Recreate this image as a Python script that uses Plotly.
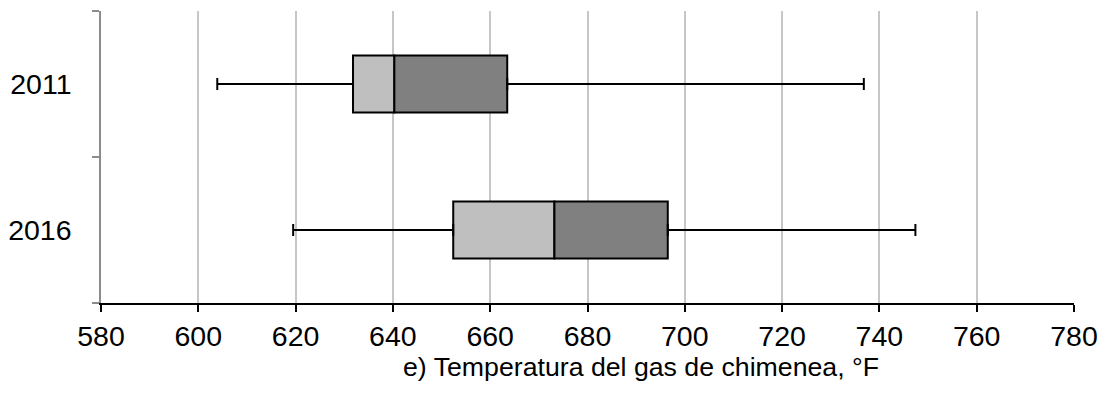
import plotly.graph_objects as go

years = ["2011", "2016"]
mins = [603.9, 619.5]
q1 = [631.8, 652.4]
medians = [640.3, 673.2]
q3 = [663.5, 696.5]
maxs = [736.8, 747.4]
x_ticks = [580, 600, 620, 640, 660, 680, 700, 720, 740, 760, 780]
x_title = "e) Temperatura del gas de chimenea, °F"

FONT = "Liberation Sans, Arial, sans-serif"

fig = go.Figure()

# whiskers as error bars
fig.add_trace(go.Scatter(
    x=q1, y=years, mode="markers", marker=dict(size=0.1, color="rgba(0,0,0,0)"),
    error_x=dict(type="data", symmetric=False,
                 array=[0 for _ in q1],
                 arrayminus=[a - b for a, b in zip(q1, mins)],
                 color="black", thickness=2, width=6),
    showlegend=False, hoverinfo="skip"))
fig.add_trace(go.Scatter(
    x=q3, y=years, mode="markers", marker=dict(size=0.1, color="rgba(0,0,0,0)"),
    error_x=dict(type="data", symmetric=False,
                 array=[b - a for a, b in zip(q3, maxs)],
                 arrayminus=[0 for _ in q3],
                 color="black", thickness=2, width=6),
    showlegend=False, hoverinfo="skip"))

fig.add_trace(go.Bar(
    y=years, x=[m - a for a, m in zip(q1, medians)], base=q1, orientation="h",
    marker=dict(color="#bfbfbf", line=dict(color="black", width=2)),
    width=0.39, showlegend=False))
fig.add_trace(go.Bar(
    y=years, x=[b - m for m, b in zip(medians, q3)], base=medians, orientation="h",
    marker=dict(color="#808080", line=dict(color="black", width=2)),
    width=0.39, showlegend=False))

W, H = 1094, 378
L, T = 92.5, 3
R = W - 1066.5
B = H - 295

fig.update_layout(
    width=W, height=H,
    margin=dict(l=L, r=R, t=T, b=B, autoexpand=False),
    paper_bgcolor="white", plot_bgcolor="white",
    barmode="overlay",
    font=dict(family=FONT, size=28, color="black"),
    xaxis=dict(range=[580, 780], tickvals=x_ticks, ticktext=[str(v) for v in x_ticks],
               showgrid=True, gridcolor="#c6c6c6", gridwidth=1.5,
               showline=True, linecolor="black", linewidth=1.5,
               ticks="outside", ticklen=7, tickcolor="black", tickwidth=1.5,
               tickfont=dict(size=28.5, family=FONT), zeroline=False),
    yaxis=dict(type="category", categoryorder="array", categoryarray=["2016", "2011"],
               range=[-0.5, 1.5],
               showgrid=False, showline=True, linecolor="#8c8c8c", linewidth=1.5,
               ticks="outside", tickson="boundaries", ticklen=7, tickcolor="#8c8c8c",
               tickwidth=1.5, ticklabelstandoff=22,
               tickfont=dict(size=28.5, family=FONT), zeroline=False),
)

fig.add_annotation(text=x_title, xref="paper", yref="paper",
                   x=(401 - 100.5) / 974, y=(295 - 359) / 292,
                   xanchor="left", yanchor="middle", showarrow=False,
                   font=dict(size=26.7, family=FONT, color="black"))

fig.write_html("out.html")
